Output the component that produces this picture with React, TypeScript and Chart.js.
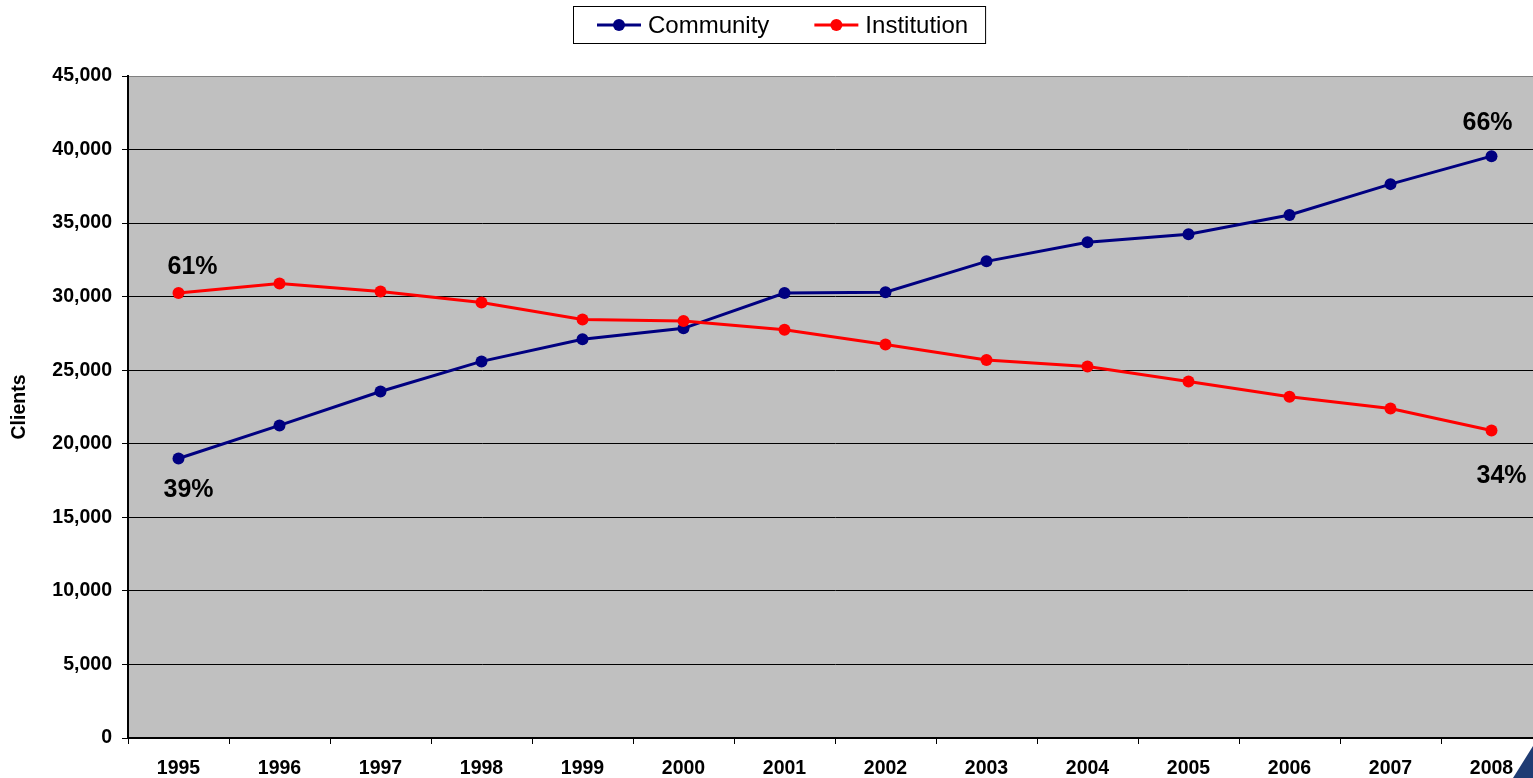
import React, { useEffect, useRef } from "react";
import { Chart, registerables } from "chart.js";

Chart.register(...registerables);

// Clients served per year, by setting
const years = ["1995", "1996", "1997", "1998", "1999", "2000", "2001", "2002", "2003", "2004", "2005", "2006", "2007", "2008"];
const community = [19000, 21250, 23550, 25600, 27100, 27850, 30250, 30300, 32400, 33700, 34250, 35550, 37650, 39550];
const institution = [30250, 30900, 30350, 29600, 28450, 28350, 27750, 26750, 25700, 25250, 24230, 23200, 22400, 20900];

// Share labels at the first and last year: [community, institution]
const firstYearShares = ["39%", "61%"];
const lastYearShares = ["66%", "34%"];

const yTicks = [0, 5000, 10000, 15000, 20000, 25000, 30000, 35000, 40000, 45000];

const FONT = "'Liberation Sans', Arial, Helvetica, sans-serif";
const NAVY = "#000080";
const RED = "#FF0000";

const plotBackground = {
  id: "plotBackground",
  beforeDraw(chart: any) {
    const { ctx, chartArea } = chart;
    ctx.save();
    ctx.fillStyle = "#C0C0C0";
    ctx.fillRect(chartArea.left, chartArea.top, chartArea.right - chartArea.left, chartArea.bottom - chartArea.top);
    ctx.restore();
  },
};

const boxedLegend = {
  id: "boxedLegend",
  afterDraw(chart: any) {
    const { ctx } = chart;
    const datasets = chart.data.datasets;
    ctx.save();
    ctx.font = `24px ${FONT}`;
    const lineLen = 44;
    const textGap = 7;
    const itemGap = 45;
    const leftPad = 24;
    const rightPad = 17;
    const widths = datasets.map((d: any) => lineLen + textGap + ctx.measureText(d.label).width);
    const total = widths.reduce((a: number, b: number) => a + b, 0) + itemGap * (datasets.length - 1) + leftPad + rightPad;
    const cx = 779;
    const top = 6;
    const h = 37;
    const left = Math.round(cx - total / 2);
    ctx.strokeStyle = "#000";
    ctx.lineWidth = 1;
    ctx.strokeRect(left + 0.5, top + 0.5, total, h);
    let x = left + leftPad;
    const cy = top + h / 2 + 0.5;
    datasets.forEach((d: any, i: number) => {
      ctx.strokeStyle = d.borderColor;
      ctx.lineWidth = 3;
      ctx.beginPath();
      ctx.moveTo(x, cy);
      ctx.lineTo(x + lineLen, cy);
      ctx.stroke();
      ctx.fillStyle = d.borderColor;
      ctx.beginPath();
      ctx.arc(x + lineLen / 2, cy, 6, 0, Math.PI * 2);
      ctx.fill();
      ctx.fillStyle = "#000";
      ctx.textAlign = "left";
      ctx.textBaseline = "middle";
      ctx.fillText(d.label, x + lineLen + textGap, cy + 1);
      x += widths[i] + itemGap;
    });
    ctx.restore();
  },
};

const shareLabels = {
  id: "shareLabels",
  afterDatasetsDraw(chart: any) {
    const { ctx } = chart;
    const last = years.length - 1;
    const items = [
      { ds: 0, idx: 0, text: firstYearShares[0], dx: 10, dy: 32 },
      { ds: 1, idx: 0, text: firstYearShares[1], dx: 14, dy: -26 },
      { ds: 0, idx: last, text: lastYearShares[0], dx: -4, dy: -33 },
      { ds: 1, idx: last, text: lastYearShares[1], dx: 10, dy: 46 },
    ];
    ctx.save();
    ctx.font = `bold 25px ${FONT}`;
    ctx.fillStyle = "#000";
    ctx.textAlign = "center";
    ctx.textBaseline = "middle";
    items.forEach((it) => {
      const pt = chart.getDatasetMeta(it.ds).data[it.idx];
      ctx.fillText(it.text, pt.x + it.dx, pt.y + it.dy);
    });
    ctx.restore();
  },
};

const cornerMark = {
  id: "cornerMark",
  afterDraw(chart: any) {
    const { ctx } = chart;
    ctx.save();
    ctx.fillStyle = "#1F3C73";
    ctx.beginPath();
    ctx.moveTo(1513, 778);
    ctx.lineTo(1533, 746);
    ctx.lineTo(1548, 746);
    ctx.lineTo(1548, 778);
    ctx.closePath();
    ctx.fill();
    ctx.restore();
  },
};

export default function App() {
  const canvasRef = useRef<HTMLCanvasElement | null>(null);

  useEffect(() => {
    if (!canvasRef.current) return;
    const tickFont = { family: FONT, size: 19.5, weight: "bold" as const };
    const chart = new Chart(canvasRef.current, {
      type: "line",
      data: {
        labels: years,
        datasets: [
          {
            label: "Community",
            data: community,
            borderColor: NAVY,
            backgroundColor: NAVY,
            pointBackgroundColor: NAVY,
            pointBorderWidth: 0,
            pointRadius: 6,
            borderWidth: 3,
            tension: 0,
            order: 1,
          },
          {
            label: "Institution",
            data: institution,
            borderColor: RED,
            backgroundColor: RED,
            pointBackgroundColor: RED,
            pointBorderWidth: 0,
            pointRadius: 6,
            borderWidth: 3,
            tension: 0,
            order: 0,
          },
        ],
      },
      options: {
        animation: false,
        responsive: false,
        devicePixelRatio: 1,
        events: [],
        layout: { padding: { top: 76, right: 6, left: 0, bottom: 0 } },
        plugins: {
          legend: { display: false },
          tooltip: { enabled: false },
        },
        scales: {
          x: {
            type: "category",
            offset: true,
            afterFit: (scale: any) => {
              scale.height = 40;
            },
            grid: {
              offset: true,
              drawOnChartArea: false,
              drawTicks: true,
              tickLength: 6,
              color: "#000",
              lineWidth: 1,
            },
            border: { display: true, color: "#000", width: 2 },
            ticks: {
              font: tickFont,
              color: "#000",
              padding: 13,
              maxRotation: 0,
              autoSkip: false,
            },
          },
          y: {
            min: 0,
            max: 45000,
            afterFit: (scale: any) => {
              scale.width = 128;
            },
            afterBuildTicks: (scale: any) => {
              scale.ticks = yTicks.map((v) => ({ value: v }));
            },
            grid: {
              drawTicks: true,
              tickLength: 6,
              color: (c: any) => (c.tick && c.tick.value === 45000 ? "#808080" : "#000"),
              tickColor: "#000",
              lineWidth: 1,
            },
            border: { display: true, color: "#000", width: 2 },
            ticks: {
              font: tickFont,
              color: "#000",
              padding: 10,
              callback: (v: any) => Number(v).toLocaleString("en-US"),
            },
            title: {
              display: true,
              text: "Clients",
              color: "#000",
              font: { family: FONT, size: 19.5, weight: "bold" },
              padding: { top: 8, bottom: 0 },
            },
          },
        },
      },
      plugins: [plotBackground, boxedLegend, shareLabels, cornerMark],
    });
    return () => chart.destroy();
  }, []);

  return (
    <div
      style={{
        position: "fixed",
        left: 0,
        top: 0,
        width: 1533,
        height: 778,
        overflow: "hidden",
        background: "#fff",
      }}
    >
      <canvas ref={canvasRef} width={1548} height={778} style={{ display: "block", width: 1548, height: 778 }} />
    </div>
  );
}
